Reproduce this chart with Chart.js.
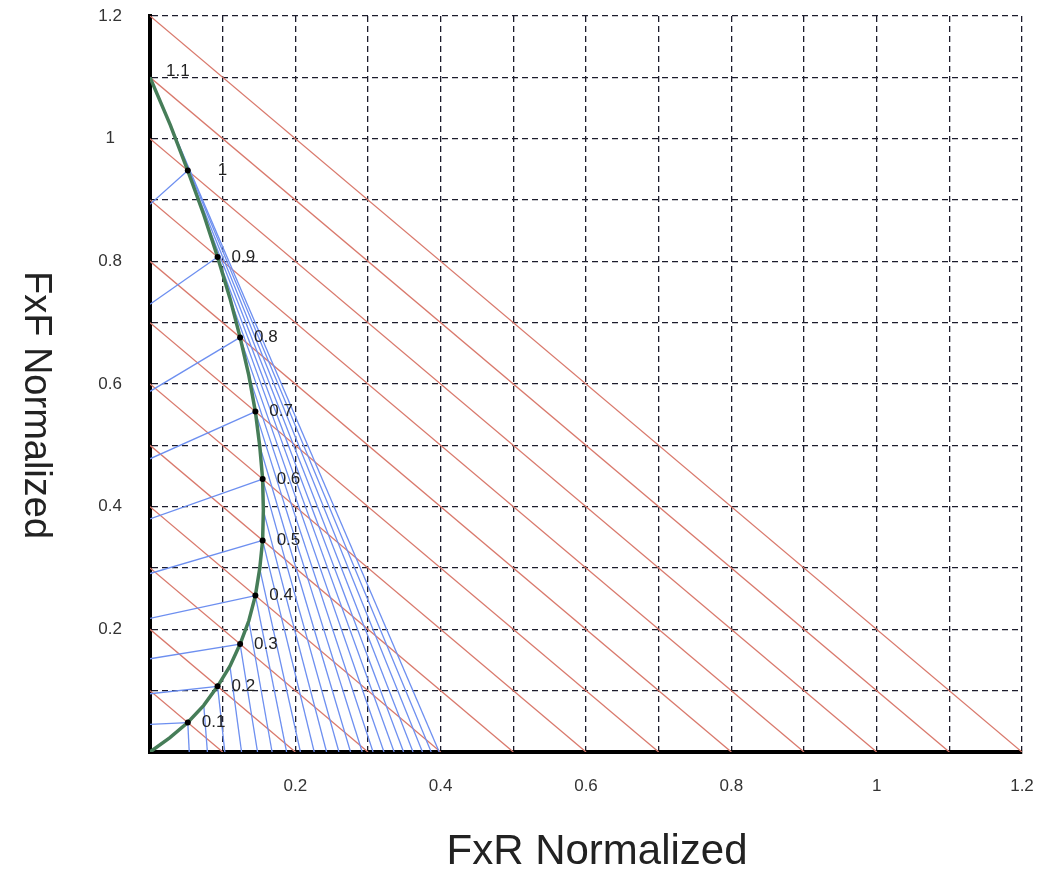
<!DOCTYPE html>
<html lang="en">
<head>
<meta charset="UTF-8">
<title>FxF / FxR Normalized</title>
<script src="https://cdn.jsdelivr.net/npm/chart.js"></script>
<style>
  html, body { margin: 0; padding: 0; background: #fff; }
  #wrap { width: 1047px; height: 873px; position: relative; }
</style>
</head>
<body>
<div id="wrap"><canvas id="chart"></canvas></div>
<script>
// labels written next to the curve
const levelLabels = ['0.1', '0.2', '0.3', '0.4', '0.5', '0.6', '0.7', '0.8', '0.9', '1', '1.1'];

// green curve, read every 0.05 from 0 up to 1.1
const curveX = [0, 0.027, 0.052, 0.074, 0.093, 0.110, 0.124, 0.136, 0.145, 0.151, 0.155, 0.156,
                0.155, 0.151, 0.145, 0.136, 0.124, 0.110, 0.093, 0.074, 0.052, 0.028, 0];
const curveY = [0, 0.023, 0.048, 0.076, 0.107, 0.140, 0.176, 0.214, 0.255, 0.299, 0.345, 0.394,
                0.445, 0.499, 0.555, 0.614, 0.676, 0.740, 0.807, 0.876, 0.948, 1.022, 1.100];

// blue lines going left to FxF axis (one per label 0.1 .. 1)
const frontEnds = [0.045, 0.095, 0.152, 0.218, 0.291, 0.38, 0.478, 0.588, 0.73, 0.893];

// blue lines going down to FxR axis (from curve points 0.1 .. 1.1, every 0.05)
const rearEnds = [0.054, 0.079, 0.103, 0.126, 0.148, 0.168, 0.188, 0.207, 0.226, 0.243, 0.260,
                  0.276, 0.292, 0.307, 0.322, 0.336, 0.349, 0.362, 0.375, 0.387, 0.398];

// red diagonal lines FxF + FxR = c
const redLevels = [0.1, 0.2, 0.3, 0.4, 0.5, 0.6, 0.7, 0.8, 0.9, 1.0, 1.1, 1.2];

const tickValues = [0.2, 0.4, 0.6, 0.8, 1, 1.2];
const tickLabels = ['0.2', '0.4', '0.6', '0.8', '1', '1.2'];

const FONT = '"Liberation Sans", Arial, sans-serif';

function tickText(v) {
  const i = tickValues.findIndex(t => Math.abs(t - v) < 1e-6);
  return i >= 0 ? tickLabels[i] : '';
}

const datasets = [];

// dots on the curve
const dots = [];
for (let i = 0; i < 10; i++) {
  const k = (i + 1) * 2;
  dots.push({x: curveX[k], y: curveY[k]});
}
datasets.push({
  data: dots, showLine: false, pointRadius: 3, pointBackgroundColor: '#000',
  pointBorderWidth: 0
});

// green curve
datasets.push({
  data: curveX.map((x, i) => ({x: x, y: curveY[i]})),
  borderColor: '#467d58', borderWidth: 3.5, pointRadius: 0, showLine: true
});

// blue lines
frontEnds.forEach((f, i) => {
  const k = (i + 1) * 2;
  datasets.push({
    data: [{x: 0, y: f}, {x: curveX[k], y: curveY[k]}],
    borderColor: '#6d8ff0', borderWidth: 1.3, pointRadius: 0, showLine: true
  });
});
rearEnds.forEach((r, i) => {
  const k = i + 2;
  datasets.push({
    data: [{x: curveX[k], y: curveY[k]}, {x: r, y: 0}],
    borderColor: '#6d8ff0', borderWidth: 1.3, pointRadius: 0, showLine: true
  });
});

// red lines
redLevels.forEach(c => {
  datasets.push({
    data: [{x: 0, y: c}, {x: c, y: 0}],
    borderColor: '#d9796c', borderWidth: 1.3, pointRadius: 0, showLine: true
  });
});

const textPlugin = {
  id: 'textPlugin',
  afterDatasetsDraw(chart) {
    const {ctx, scales: {x, y}} = chart;
    ctx.save();
    ctx.font = '17px ' + FONT;
    ctx.fillStyle = '#222';
    ctx.textBaseline = 'middle';
    ctx.textAlign = 'left';
    levelLabels.forEach((txt, i) => {
      const k = (i + 1) * 2;
      let px = x.getPixelForValue(curveX[k]) + 14;
      let py = y.getPixelForValue(curveY[k]);
      if (txt === '1') px += 16;
      if (txt === '1.1') { px += 2; py -= 6; }
      ctx.fillText(txt, px, py);
    });

    // axis titles
    ctx.textAlign = 'center';
    ctx.font = '42px ' + FONT;
    ctx.fillText('FxR Normalized', 597, 852);
    ctx.font = '38px ' + FONT;
    ctx.translate(35, 405);
    ctx.rotate(Math.PI / 2);
    ctx.fillText('FxF Normalized', 0, 0);
    ctx.restore();
  }
};

new Chart(document.getElementById('chart'), {
  type: 'scatter',
  data: { datasets: datasets },
  options: {
    responsive: true,
    maintainAspectRatio: false,
    animation: false,
    events: [],
    layout: { padding: { top: 16, right: 25, left: 0, bottom: 0 } },
    plugins: { legend: { display: false }, tooltip: { enabled: false } },
    scales: {
      x: {
        type: 'linear', min: 0, max: 1.2,
        afterFit(s) { s.height = 121; s.paddingLeft = 0; s.paddingRight = 0; },
        grid: { color: '#1c1c2c', lineWidth: 1.3, drawTicks: false },
        border: { display: true, color: '#000', width: 4, dash: [6, 4] },
        ticks: {
          stepSize: 0.1, autoSkip: false, maxRotation: 0, padding: 24,
          color: '#333', font: { family: FONT, size: 17 },
          callback: v => tickText(v)
        }
      },
      y: {
        type: 'linear', min: 0, max: 1.2,
        afterFit(s) { s.width = 150; s.paddingTop = 0; s.paddingBottom = 0; },
        grid: { color: '#1c1c2c', lineWidth: 1.3, drawTicks: false },
        border: { display: true, color: '#000', width: 4, dash: [6, 4] },
        ticks: {
          stepSize: 0.1, autoSkip: false, padding: 28, crossAlign: 'center',
          color: '#333', font: { family: FONT, size: 17 },
          callback: v => tickText(v)
        }
      }
    }
  },
  plugins: [textPlugin]
});
</script>
</body>
</html>
